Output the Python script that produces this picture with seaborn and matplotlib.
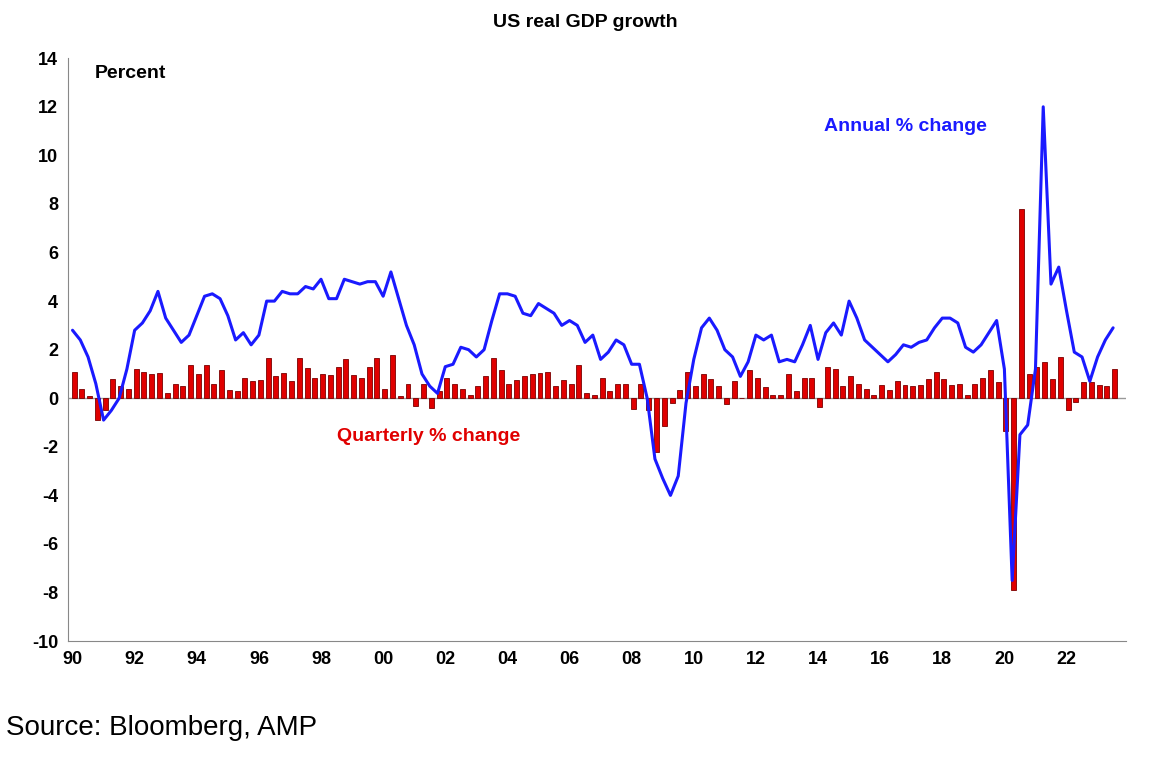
import numpy as np
import pandas as pd
import matplotlib
matplotlib.use("Agg")
import matplotlib.pyplot as plt
import seaborn as sns

sns.set_style("white")
plt.rcParams["font.family"] = ["Liberation Sans", "DejaVu Sans"]
plt.rcParams["axes.unicode_minus"] = False
plt.rcParams["text.color"] = "black"
plt.rcParams["xtick.color"] = "black"
plt.rcParams["ytick.color"] = "black"

# quarterly % change, 1990Q1 .. 2023Q3
quarterly = [
    1.1, 0.4, 0.1, -0.9,
    -0.5, 0.8, 0.5, 0.4,
    1.2, 1.1, 1.0, 1.05,
    0.2, 0.6, 0.5, 1.35,
    1.0, 1.35, 0.6, 1.15,
    0.35, 0.3, 0.85, 0.7,
    0.75, 1.65, 0.9, 1.05,
    0.7, 1.65, 1.25, 0.85,
    1.0, 0.95, 1.3, 1.6,
    0.95, 0.85, 1.3, 1.65,
    0.4, 1.8, 0.1, 0.6,
    -0.3, 0.6, -0.4, 0.3,
    0.85, 0.6, 0.4, 0.15,
    0.5, 0.9, 1.65, 1.15,
    0.6, 0.75, 0.9, 1.0,
    1.05, 1.1, 0.5, 0.75,
    0.6, 1.35, 0.2, 0.15,
    0.85, 0.3, 0.6, 0.6,
    -0.45, 0.6, -0.5, -2.2,
    -1.15, -0.2, 0.35, 1.1,
    0.5, 1.0, 0.8, 0.5,
    -0.25, 0.7, 0.0, 1.15,
    0.85, 0.45, 0.15, 0.15,
    1.0, 0.3, 0.85, 0.85,
    -0.35, 1.3, 1.2, 0.5,
    0.9, 0.6, 0.4, 0.15,
    0.55, 0.35, 0.7, 0.55,
    0.5, 0.55, 0.8, 1.1,
    0.8, 0.55, 0.6, 0.15,
    0.6, 0.85, 1.15, 0.65,
    -1.35, -7.9, 7.8, 1.0,
    1.3, 1.5, 0.8, 1.7,
    -0.5, -0.15, 0.65, 0.65,
    0.55, 0.5, 1.2,
]

# annual % change (year on year), same quarters
annual = [
    2.8, 2.4, 1.7, 0.6,
    -0.9, -0.5, 0.0, 1.2,
    2.8, 3.1, 3.6, 4.4,
    3.3, 2.8, 2.3, 2.6,
    3.4, 4.2, 4.3, 4.1,
    3.4, 2.4, 2.7, 2.2,
    2.6, 4.0, 4.0, 4.4,
    4.3, 4.3, 4.6, 4.5,
    4.9, 4.1, 4.1, 4.9,
    4.8, 4.7, 4.8, 4.8,
    4.2, 5.2, 4.1, 3.0,
    2.2, 1.0, 0.5, 0.2,
    1.3, 1.4, 2.1, 2.0,
    1.7, 2.0, 3.2, 4.3,
    4.3, 4.2, 3.5, 3.4,
    3.9, 3.7, 3.5, 3.0,
    3.2, 3.0, 2.3, 2.6,
    1.6, 1.9, 2.4, 2.2,
    1.4, 1.4, 0.0, -2.5,
    -3.3, -4.0, -3.2, -0.2,
    1.6, 2.9, 3.3, 2.8,
    2.0, 1.7, 0.9, 1.5,
    2.6, 2.4, 2.6, 1.5,
    1.6, 1.5, 2.2, 3.0,
    1.6, 2.7, 3.1, 2.6,
    4.0, 3.3, 2.4, 2.1,
    1.8, 1.5, 1.8, 2.2,
    2.1, 2.3, 2.4, 2.9,
    3.3, 3.3, 3.1, 2.1,
    1.9, 2.2, 2.7, 3.2,
    1.2, -7.5, -1.5, -1.1,
    1.2, 12.0, 4.7, 5.4,
    3.6, 1.9, 1.7, 0.7,
    1.7, 2.4, 2.9,
]

years = [1990 + i // 4 + (i % 4) / 4 for i in range(len(quarterly))]
df = pd.DataFrame({"date": years, "quarterly": quarterly, "annual": annual})

fig = plt.figure(figsize=(11.7, 7.66), dpi=100)
ax = fig.add_axes([0.058, 0.163, 0.904, 0.761])

ax.bar(df["date"] + 0.05, df["quarterly"], width=0.16, color="#e00000",
       edgecolor="#7a0000", linewidth=0.6, zorder=2)
sns.lineplot(data=df, x="date", y="annual", color="#1a1aff", linewidth=2.2,
             ax=ax, zorder=3)
ax.axhline(0, color="#999999", linewidth=1, zorder=1)

ax.set_xlim(1989.85, 2023.9)
ax.set_ylim(-10, 14)
ax.set_yticks(range(-10, 15, 2))
ax.set_xticks(range(1990, 2023, 2))
ax.set_xticklabels([f"{y % 100:02d}" for y in range(1990, 2023, 2)])
ax.tick_params(labelsize=13)
for lab in ax.get_xticklabels() + ax.get_yticklabels():
    lab.set_fontweight("bold")
ax.set_xlabel("")
ax.set_ylabel("")
for s in ax.spines.values():
    s.set_color("#888888")
ax.spines["top"].set_visible(False)
ax.spines["right"].set_visible(False)

ax.text(1990.7, 13.2, "Percent", fontsize=14, fontweight="bold")
ax.text(2014.2, 11.0, "Annual % change", fontsize=14, fontweight="bold", color="#1a1aff")
ax.text(1998.5, -1.75, "Quarterly % change", fontsize=14, fontweight="bold", color="#e00000")

fig.text(0.5, 0.965, "US real GDP growth", ha="center", fontsize=14, fontweight="bold")
fig.text(0.005, 0.04, "Source: Bloomberg, AMP", fontsize=20)

fig.savefig("out.png", dpi=100)
